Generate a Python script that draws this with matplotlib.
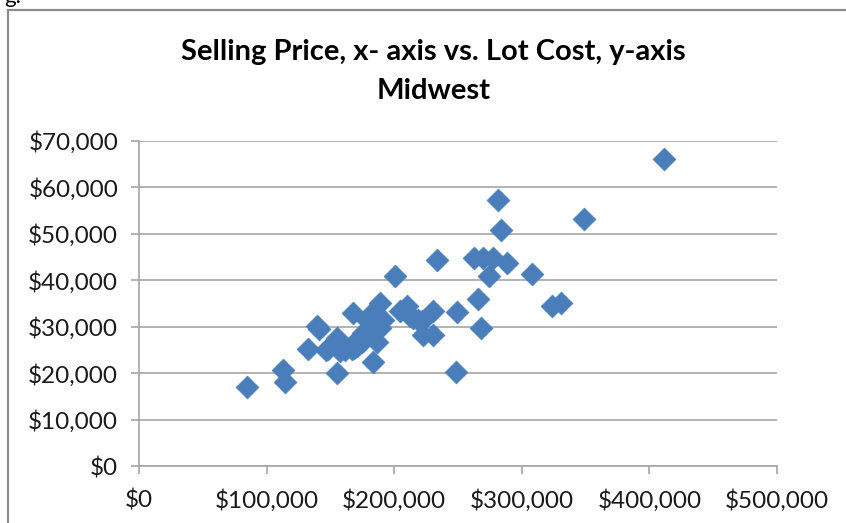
import matplotlib.pyplot as plt
from matplotlib.patches import Rectangle
from matplotlib.ticker import FuncFormatter

# Selling price (x) and lot cost (y), Midwest
precio_venta = [
    84.4, 113.0, 114.4, 132.7, 139.3, 141.0, 154.9, 154.9, 148.3, 157.5,
    166.6, 170.5, 168.0, 175.8, 178.4, 182.3, 188.9, 186.3, 186.3, 183.6,
    188.9, 178.4, 201.0, 204.5, 209.8, 212.4, 218.9, 222.8, 230.7, 230.7,
    233.3, 248.9, 248.4, 265.3, 268.0, 262.5, 269.8, 277.6, 288.2, 274.5,
    411.4, 281.6, 283.7, 349.0, 307.7, 323.3, 331.1, 181.0, 191.4, 175.7,
    170.5, 168.4, 174.6, 177.0, 215.0, 221.6, 161.4, 146.6,
]
costo_lote = [
    17.1, 20.7, 18.2, 25.1, 30.2, 29.5, 27.6, 20.0, 25.1, 24.7,
    25.1, 27.2, 33.0, 27.9, 31.5, 33.0, 35.1, 31.5, 26.8, 22.5,
    29.7, 29.4, 40.9, 33.3, 34.4, 32.2, 31.5, 28.3, 33.3, 28.3,
    44.3, 33.1, 20.2, 35.9, 29.7, 44.9, 44.9, 44.9, 43.8, 41.0,
    66.2, 57.2, 50.8, 53.1, 41.4, 34.4, 35.1, 32.2, 31.5, 28.7,
    25.8, 25.4, 26.8, 28.7, 31.9, 31.2, 25.0, 24.9,
]
precio_venta = [v * 1000 for v in precio_venta]
costo_lote = [v * 1000 for v in costo_lote]

ticks_x = [0, 100000, 200000, 300000, 400000, 500000]
ticks_y = [0, 10000, 20000, 30000, 40000, 50000, 60000, 70000]

plt.rcParams['font.family'] = ['Lato', 'DejaVu Sans']

fig = plt.figure(figsize=(8.46, 5.23), dpi=100)
ax = fig.add_axes([139 / 846, 1 - 466 / 523, 638 / 846, 325 / 523])

# marco del grafico
fig.patches.append(Rectangle((8 / 846, -0.1), 1.0, 1 - 10 / 523 + 0.1,
                             transform=fig.transFigure, fill=False,
                             edgecolor='#8c8c8c', linewidth=1.6))
fig.text(4 / 846, 1 + 3 / 523, 'g.', fontsize=16, va='center', ha='left')

ax.scatter(precio_venta, costo_lote, marker='D', s=135, color='#4a7ebb',
           edgecolors='#4a7ebb', linewidths=0.5, zorder=3)

ax.set_xlim(0, 500000)
ax.set_ylim(0, 70000)
ax.set_xticks(ticks_x)
ax.set_yticks(ticks_y)
fmt = FuncFormatter(lambda v, p: f"${v:,.0f}")
ax.xaxis.set_major_formatter(fmt)
ax.yaxis.set_major_formatter(fmt)

ax.grid(axis='y', color='#a6a6a6', linewidth=1.2)
ax.set_axisbelow(True)
for s in ['top', 'right']:
    ax.spines[s].set_visible(False)
for s in ['left', 'bottom']:
    ax.spines[s].set_color('#a6a6a6')
    ax.spines[s].set_linewidth(1.2)
ax.tick_params(axis='both', colors='#a6a6a6', labelcolor='#1a1a1a',
               labelsize=17.5, length=6, width=1.2)
ax.tick_params(axis='x', pad=11)
ax.tick_params(axis='y', pad=9)

fig.text(0.512, 1 - 52 / 523, 'Selling Price, x- axis vs. Lot Cost, y-axis',
         ha='center', va='center', fontsize=21, fontweight='bold')
fig.text(0.512, 1 - 91 / 523, 'Midwest', ha='center', va='center',
         fontsize=21, fontweight='bold')

fig.savefig('out.png', dpi=100)
